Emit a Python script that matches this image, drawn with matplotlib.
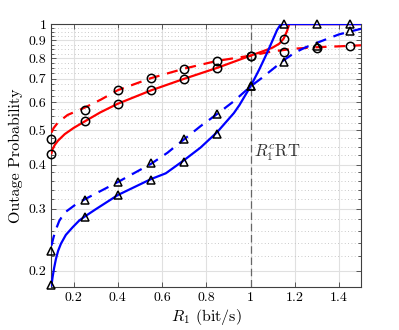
import numpy as np
import matplotlib
matplotlib.use("Agg")
import matplotlib.pyplot as plt
from matplotlib.ticker import FixedLocator, NullFormatter

plt.rcParams['font.family'] = 'serif'
plt.rcParams['font.serif'] = ['cmr10', 'DejaVu Serif']
plt.rcParams['mathtext.fontset'] = 'cm'
plt.rcParams['axes.formatter.use_mathtext'] = True

# theory curves
red_solid_x = [0.1, 0.105, 0.115, 0.13, 0.16, 0.2, 0.25, 0.32, 0.4, 0.55, 0.7, 0.85, 1.0,
               1.05, 1.1, 1.13, 1.15, 1.165, 1.175, 1.5]
red_solid_y = [0.431, 0.442, 0.455, 0.468, 0.488, 0.508, 0.530, 0.562, 0.595, 0.649, 0.700,
               0.752, 0.814, 0.835, 0.858, 0.880, 0.910, 0.955, 1.0, 1.0]
red_dash_x = [0.1, 0.11, 0.13, 0.173, 0.25, 0.323, 0.4, 0.55, 0.7, 0.85, 1.0, 1.1, 1.2, 1.3,
              1.4, 1.5]
red_dash_y = [0.493, 0.508, 0.527, 0.553, 0.580, 0.611, 0.650, 0.703, 0.748, 0.787, 0.814,
              0.837, 0.852, 0.860, 0.865, 0.871]
blue_solid_x = [0.1, 0.105, 0.112, 0.12, 0.13, 0.143, 0.165, 0.196, 0.226, 0.25, 0.3, 0.4,
                0.55, 0.617, 0.7, 0.774, 0.85, 0.925, 0.95, 1.0, 1.04, 1.075, 1.1, 1.12,
                1.135, 1.15, 1.5]
blue_solid_y = [0.182, 0.192, 0.204, 0.216, 0.228, 0.239, 0.253, 0.266, 0.278, 0.285,
                0.299, 0.328, 0.364, 0.378, 0.412, 0.447, 0.495, 0.560, 0.590, 0.666,
                0.745, 0.829, 0.900, 0.962, 0.995, 1.0, 1.0]
blue_dash_x = [0.1, 0.11, 0.12, 0.135, 0.158, 0.211, 0.25, 0.4, 0.55, 0.624, 0.7, 0.774,
               0.85, 0.925, 1.0, 1.05, 1.1, 1.15, 1.2, 1.25, 1.3, 1.4, 1.5]
blue_dash_y = [0.236, 0.250, 0.262, 0.277, 0.292, 0.309, 0.319, 0.357, 0.402, 0.432, 0.472,
               0.514, 0.557, 0.605, 0.666, 0.703, 0.745, 0.790, 0.830, 0.860, 0.885, 0.935,
               0.970]

# simulation points
sim_x = [0.1, 0.25, 0.4, 0.55, 0.7, 0.85, 1.0, 1.15, 1.3, 1.45]
red_solid_sim = [0.430, 0.530, 0.595, 0.649, 0.701, 0.753, 0.814, 0.905]
red_dash_sim = [0.474, 0.573, 0.649, 0.703, 0.748, 0.788, 0.814, 0.836, 0.858, 0.865]
blue_solid_sim = [0.182, 0.285, 0.328, 0.362, 0.408, 0.488, 0.666, 1.0, 1.0, 1.0]
blue_dash_sim = [0.2275, 0.318, 0.357, 0.403, 0.474, 0.558, 0.666, 0.783, 0.866, 0.956]

yticks = [0.2, 0.3, 0.4, 0.5, 0.6, 0.7, 0.8, 0.9, 1.0]
ytick_labels = ['0.2', '0.3', '0.4', '0.5', '0.6', '0.7', '0.8', '0.9', '1']
xticks = [0.2, 0.4, 0.6, 0.8, 1.0, 1.2, 1.4]
xtick_labels = ['0.2', '0.4', '0.6', '0.8', '1', '1.2', '1.4']

fig = plt.figure(figsize=(3.99, 3.30), dpi=100)
ax = fig.add_axes([0.129, 0.130, 0.776, 0.797])

ax.plot(red_solid_x, red_solid_y, color='red', lw=1.6, zorder=3)
ax.plot(red_dash_x, red_dash_y, color='red', lw=1.6, ls=(0, (5, 3.5)), zorder=3)
ax.plot(blue_solid_x, blue_solid_y, color='blue', lw=1.6, zorder=3)
ax.plot(blue_dash_x, blue_dash_y, color='blue', lw=1.6, ls=(0, (5, 3.5)), zorder=3)

mk = dict(ls='none', mfc='none', mec='black', mew=1.1, ms=6, zorder=4, clip_on=False)
ax.plot(sim_x[:len(red_solid_sim)], red_solid_sim, marker='o', **mk)
ax.plot(sim_x, red_dash_sim, marker='o', **mk)
ax.plot(sim_x, blue_solid_sim, marker='^', **mk)
ax.plot(sim_x, blue_dash_sim, marker='^', **mk)

ax.axvline(1.0, color='0.4', lw=0.9, ls=(0, (6, 3)), zorder=2)
ax.text(1.015, 0.42, r'$R_1^c\mathrm{RT}$', fontsize=12, color='0.2')

ax.set_yscale('log')
ax.set_xlim(0.1, 1.5)
ax.set_ylim(0.18, 1.0)
ax.yaxis.set_major_locator(FixedLocator(yticks))
ax.set_yticklabels(ytick_labels)
minor = [v for v in np.arange(0.18, 0.4, 0.02)] + [v for v in np.arange(0.4, 1.0, 0.025)]
ax.yaxis.set_minor_locator(FixedLocator(minor))
ax.yaxis.set_minor_formatter(NullFormatter())
ax.set_xticks(xticks)
ax.set_xticklabels(xtick_labels)

ax.grid(True, which='major', color='0.88', lw=0.8)
ax.grid(True, which='minor', axis='y', color='0.72', lw=0.6, ls=(0, (1, 3)))
ax.set_axisbelow(True)
ax.tick_params(which='both', direction='in', top=True, right=True, labelsize=10,
               color='0.25', width=0.6)
ax.tick_params(which='major', length=3.5)
ax.tick_params(which='minor', length=2)
for s in ax.spines.values():
    s.set_color('0.25')
    s.set_linewidth(0.8)

ax.set_xlabel(r'$R_1$ (bit/s)', fontsize=11.5, labelpad=2)
ax.set_ylabel('Outage Probability', fontsize=11.5, labelpad=4)

fig.savefig('out.png', dpi=100)
